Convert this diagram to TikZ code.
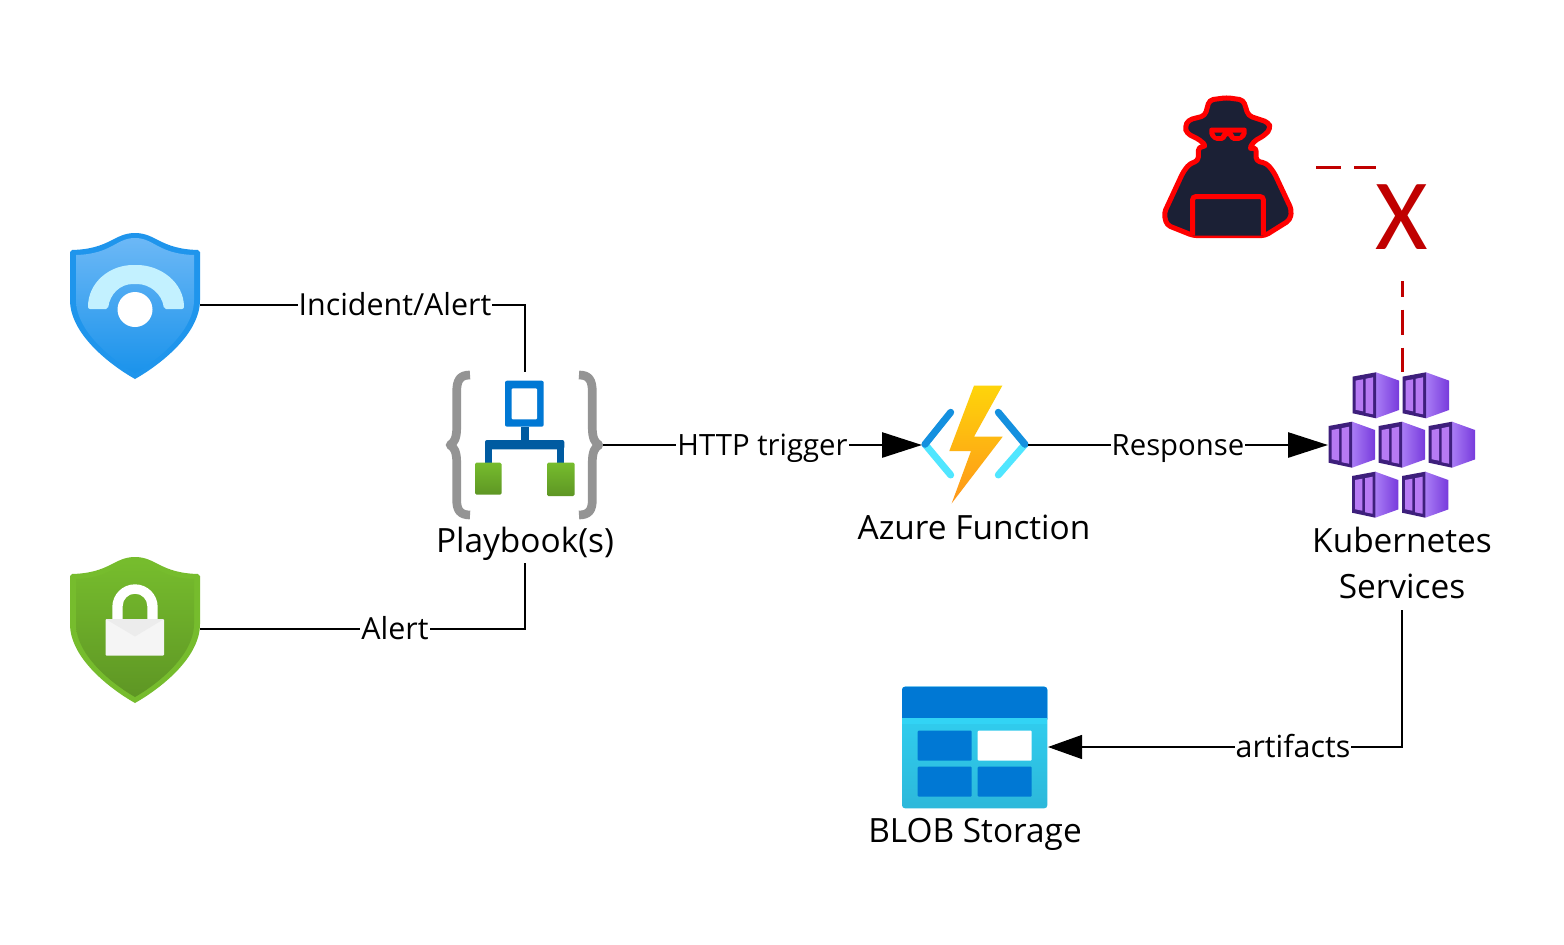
\documentclass[tikz,border=0pt]{standalone}
\usepackage{fontspec}
\setmainfont{Open Sans}
\newfontfamily\xfont{Carlito}
\usetikzlibrary{arrows.meta,calc}
\definecolor{azblue}{HTML}{0078D4}
\definecolor{azdeep}{HTML}{005BA1}
\definecolor{azred}{HTML}{C00000}
\definecolor{hackerdark}{HTML}{1B2035}
\definecolor{bracegray}{HTML}{949494}
\definecolor{c1}{HTML}{A97CF5}
\definecolor{c2}{HTML}{773ADC}
\definecolor{c3}{HTML}{3E1F7C}
\definecolor{c4}{HTML}{B77AF4}
\definecolor{shieldblue}{HTML}{1F95EC}
\definecolor{shieldtop}{HTML}{6CB8F6}
\definecolor{shieldmid}{HTML}{2F9DEE}
\definecolor{shieldbot}{HTML}{1B93EB}
\definecolor{phone}{HTML}{C3F1FF}
\definecolor{grtop}{HTML}{76BC2D}
\definecolor{grbox}{HTML}{5E9624}
\definecolor{cyanline}{HTML}{50E6FF}
\definecolor{blueline}{HTML}{1490DF}
\definecolor{bolttop}{HTML}{FED40A}
\definecolor{boltbot}{HTML}{FE961A}
\definecolor{sttop}{HTML}{32D4F5}
\definecolor{stbot}{HTML}{2CB8DA}
\definecolor{lockbody}{HTML}{F5F5F5}
\definecolor{lockflap}{HTML}{ECECEC}
\tikzset{
  x=1pt,y=-1pt,
  anchorbox/.style={minimum width=#1,inner sep=0pt,outer sep=0pt},
  conn/.style={line width=2.8pt,black},
  thinconn/.style={line width=1.1pt,black},
  bigtip/.style={-{Triangle[length=40pt,width=25pt]}},
  smalltip/.style={-{Triangle[length=34pt,width=24pt]}},
  edgelabel/.style={fill=white,inner xsep=1pt,inner ysep=0pt,text height=27pt,text depth=6pt,font=\fontsize{30.4}{34}\selectfont},
  narrowlabel/.style={edgelabel,font=\fontsize{29.3}{34}\selectfont},
  iconlabel/.style={inner sep=0pt,font=\fontsize{33.4}{46}\selectfont,align=center},
  onelabel/.style={iconlabel,text height=30pt,text depth=8pt},
  attack/.style={line width=3pt,azred,dash pattern=on 25pt off 13pt},
  brace/.style={line width=8.7pt,bracegray,line join=round},
}
\newcommand{\shieldpath}{(135,233) .. controls (114,233) and (110,249) .. (72,250) -- (70,252) -- (70,300) .. controls (70,335) and (112,366) .. (135,379) .. controls (158,366) and (200,335) .. (200,300) -- (200,252) -- (198,250) .. controls (160,249) and (156,233) .. (135,233) -- cycle}
\newcommand{\shieldinner}{(135,238) .. controls (116,238) and (112,254) .. (76,255) -- (76,300) .. controls (76,332) and (114,361) .. (135,373) .. controls (156,361) and (194,332) .. (194,300) -- (194,255) .. controls (158,254) and (154,238) .. (135,238) -- cycle}
\newcommand{\containerat}[2]{%
  \begin{scope}[shift={(#1,#2)}]
    \shade[left color=c1,right color=c2] (23.3,0) -- (46.3,8.3) -- (46.3,37.7) -- (23.3,46) -- cycle;
    \fill[c3] (0,4.3) -- (23.3,0) -- (23.3,46) -- (0,41) -- cycle;
    \fill[c4] (3,8.3) -- (10.3,7) -- (10.3,39) -- (3,37.5) -- cycle;
    \fill[c4] (13,6.5) -- (20.5,5) -- (20.5,42) -- (13,40.5) -- cycle;
  \end{scope}}
\begin{document}
\begin{tikzpicture}
\useasboundingbox (0,0) rectangle (1564,945);
\fill[white] (0,0) rectangle (1564,945);

% blue shield
\fill[shieldblue] \shieldpath;
\shade[top color=shieldtop,middle color=shieldmid,bottom color=shieldbot] \shieldinner;
\fill[phone,rounded corners=2pt] (88,309) .. controls (88,282) and (110,265) .. (135,265) .. controls (160,265) and (184,282) .. (184,309) -- (164,309) .. controls (162,294) and (150,284) .. (135,284) .. controls (120,284) and (110,294) .. (108,309) -- cycle;
\fill[white] (135,309.5) circle[radius=17.5];

% green shield
\begin{scope}[yshift=-324pt]
\fill[grtop] \shieldpath;
\shade[top color=grtop,bottom color=grbox] \shieldinner;
\end{scope}
\fill[white] (112.3,625) -- (112.3,607) arc[start angle=180,end angle=360,radius=22.7] -- (157.7,625) -- (147.3,625) -- (147.3,606) arc[start angle=360,end angle=180,radius=12.3] -- (122.7,625) -- cycle;
\fill[lockbody,rounded corners=1pt] (105.7,619) rectangle (164,655.7);
\fill[lockflap] (105.7,619) -- (164,619) -- (135,636.5) -- cycle;

% playbook braces
\draw[brace] (470,375) .. controls (460,375) and (456.7,380) .. (456.7,392) -- (456.7,428) .. controls (456.7,438) and (454,443) .. (450,445) .. controls (454,447) and (456.7,452) .. (456.7,462) -- (456.7,500) .. controls (456.7,510) and (460,515) .. (470,515);
\draw[brace] (579,375) .. controls (589,375) and (592.3,380) .. (592.3,392) -- (592.3,428) .. controls (592.3,438) and (595,443) .. (599,445) .. controls (595,447) and (592.3,452) .. (592.3,462) -- (592.3,500) .. controls (592.3,510) and (589,515) .. (579,515);
% playbook tree
\fill[azblue,rounded corners=2pt] (505,380.7) rectangle (543.7,426.7);
\fill[white,rounded corners=1pt] (511.7,388.3) rectangle (537,419.3);
\fill[azdeep] (520.7,426.7) rectangle (528.7,441);
\fill[azdeep,rounded corners=2pt] (485,440) rectangle (564.3,449.3);
\fill[azdeep] (485,445) rectangle (492.3,464);
\fill[azdeep] (557,445) rectangle (564.3,464);
\shade[top color=grtop,bottom color=grbox,rounded corners=1.5pt] (475,462.7) rectangle (501.7,494.7);
\shade[top color=grtop,bottom color=grbox,rounded corners=1.5pt] (547,462.7) rectangle (574.7,496);

% function
\draw[line width=7pt,line cap=round,cyanline] (925,444.3) -- (950.7,475);
\draw[line width=7pt,line cap=round,cyanline] (1025,444.3) -- (998.3,475);
\draw[line width=7pt,line cap=round,blueline] (925,444.3) -- (950.7,412.3);
\draw[line width=7pt,line cap=round,blueline] (1025,444.3) -- (998.3,412.3);
\shade[top color=bolttop,bottom color=boltbot] (974,385.7) -- (1002.3,385.7) -- (974,436.7) -- (1002.7,436.7) -- (951.7,503.3) -- (971,451) -- (949.3,451) -- cycle;

% kubernetes
\containerat{1352.7}{372.3}
\containerat{1402.7}{372.3}
\containerat{1328.7}{421.7}
\containerat{1378.7}{421.7}
\containerat{1428.7}{421.7}
\containerat{1352}{471.7}
\containerat{1402}{471.7}

% storage
\shade[top color=sttop,bottom color=stbot,rounded corners=3pt] (902,686.7) rectangle (1047.3,808.3);
\fill[azblue,rounded corners=3pt] (902,686.7) rectangle (1047.3,722);
\fill[sttop] (902,718.3) rectangle (1047.3,724);
\fill[azblue,rounded corners=1pt] (917.7,730.7) rectangle (971.7,760.7);
\fill[white,rounded corners=1pt] (977.7,730.7) rectangle (1031.7,760.7);
\fill[azblue,rounded corners=1pt] (917.7,766.7) rectangle (971.7,796.7);
\fill[azblue,rounded corners=1pt] (977.7,766.7) rectangle (1031.7,796.7);

% anchors for connectors
\node[anchorbox=130pt,minimum height=146pt] (alertshield) at (135,305) {};
\node[anchorbox=130pt,minimum height=146pt] (lockshield) at (135,629) {};
\node[anchorbox=156pt,minimum height=146pt] (playbook) at (525,445) {};
\node[anchorbox=106pt,minimum height=118pt] (azfunc) at (975,445) {};
\node[anchorbox=148pt,minimum height=146pt] (kube) at (1402,445) {};
\node[anchorbox=146pt,minimum height=122pt] (blob) at (975,747) {};
\coordinate (attackstart) at (1316,167.7);

% hacker
\begin{scope}[shift={(1150,85)},x=0.3333pt,y=-0.3333pt]
\draw[line width=5pt,red,fill=hackerdark,line join=round,rounded corners=4pt] (230,38) -- (280,45) -- (295,92) -- (355,112) -- (362,130) -- (345,150) -- (310,170) -- (297,195) -- (318,185) -- (318,228) -- (350,235) -- (372,262) -- (425,375) -- (420,405) -- (345,452) -- (130,452) -- (50,420) -- (42,385) -- (100,260) -- (120,235) -- (145,228) -- (145,185) -- (170,185) -- (150,165) -- (110,145) -- (105,125) -- (115,105) -- (165,92) -- (178,45) -- cycle;
\draw[line width=5pt,red,fill=hackerdark,rounded corners=3pt] (128,452) -- (128,335) -- (340,335) -- (340,452);
\fill[red,rounded corners=2pt] (178,128) -- (290,128) -- (290,152) -- (272,168) -- (245,168) -- (233,150) -- (222,168) -- (195,168) -- (178,152) -- cycle;
\fill[hackerdark] (193,143) -- (218,143) -- (212,153) -- (198,153) -- cycle;
\fill[hackerdark] (248,143) -- (275,143) -- (268,153) -- (254,153) -- cycle;
\end{scope}

% text labels
\node[onelabel,minimum height=44pt] (pblabel) at (525,541) {Playbook(s)};
\node[onelabel] (funclabel) at (974,528) {Azure Function};
\node[iconlabel,minimum height=94pt] (kubelabel) at (1402,563) {Kubernetes\\Services};
\node[onelabel] (bloblabel) at (975,831) {BLOB Storage};

% connectors
\draw[conn] (alertshield.east) -| node[edgelabel,pos=0.30] {Incident/Alert} (playbook.north);
\draw[conn] (lockshield.east) -| node[edgelabel,pos=0.30] {Alert} (pblabel.south);
\draw[conn,bigtip] (playbook.east) -- node[narrowlabel,pos=0.5] {HTTP trigger} (azfunc.west);
\draw[conn,bigtip] (azfunc.east) -- node[narrowlabel,pos=0.5] {Response} (kube.west);
\draw[thinconn,smalltip] (kubelabel.south) |- node[edgelabel,pos=0.654] {artifacts} (blob.east);
\draw[attack] (attackstart) -| (kube.north);
\node[inner sep=0pt,fill=white,minimum width=52pt,minimum height=128pt,text=azred,font=\xfont\fontsize{101}{101}\selectfont] (xmark) at (1402,217) {X};
\end{tikzpicture}
\end{document}
